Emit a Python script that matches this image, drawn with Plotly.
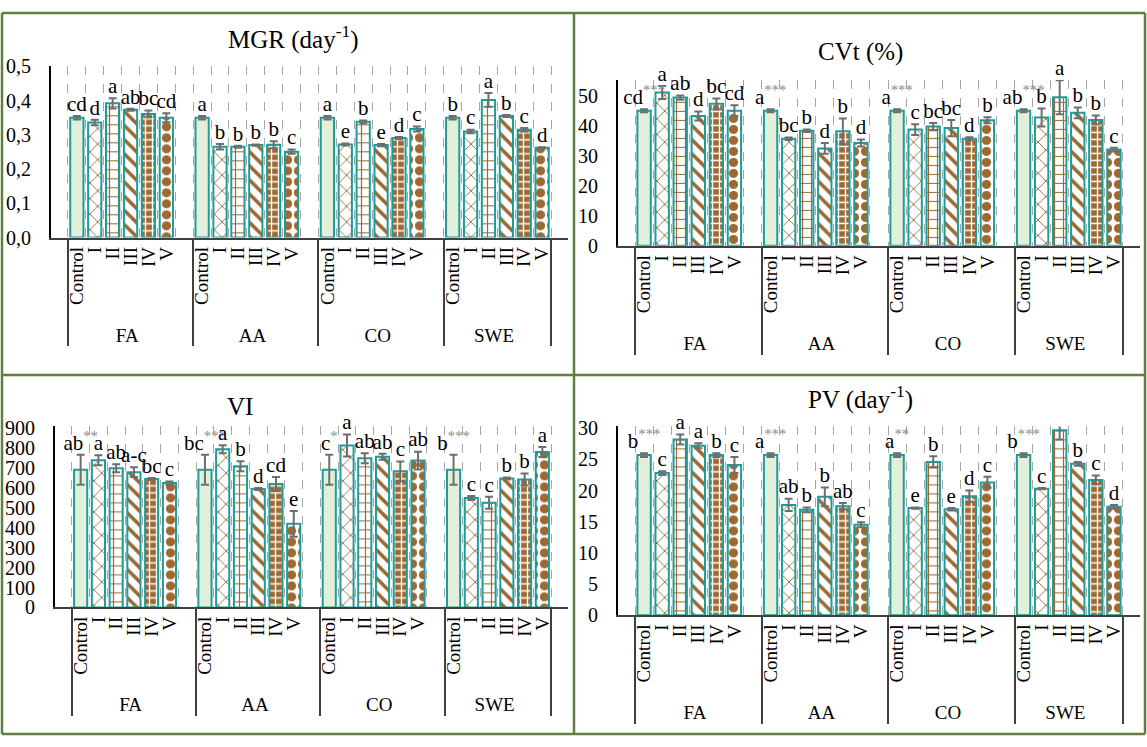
import plotly.graph_objects as go

groups = ["FA", "AA", "CO", "SWE"]
treatments = ["Control", "I", "II", "III", "IV", "V"]

# MGR (day-1): means, SE and letters, ordered FA, AA, CO, SWE x Control..V
mgr_mean = [0.350, 0.336, 0.392, 0.373, 0.361, 0.350,
            0.350, 0.265, 0.265, 0.270, 0.271, 0.251,
            0.350, 0.272, 0.338, 0.270, 0.291, 0.317,
            0.350, 0.310, 0.402, 0.355, 0.315, 0.262]
mgr_err = [0.005, 0.008, 0.015, 0.003, 0.010, 0.013,
           0.005, 0.008, 0.003, 0.002, 0.010, 0.006,
           0.005, 0.003, 0.004, 0.003, 0.003, 0.007,
           0.005, 0.005, 0.020, 0.003, 0.005, 0.002]
mgr_letters = ["cd", "d", "a", "ab", "bc", "cd",
               "a", "b", "b", "b", "b", "c",
               "a", "e", "b", "e", "d", "c",
               "b", "c", "a", "b", "c", "d"]

# CVt (%)
cvt_mean = [45.2, 51.3, 49.6, 43.4, 47.5, 45.2,
            45.2, 35.8, 38.5, 32.6, 38.3, 34.4,
            45.2, 38.9, 39.9, 39.4, 35.8, 42.0,
            45.2, 42.9, 49.7, 44.5, 42.1, 32.2]
cvt_err = [0.5, 2.2, 0.7, 1.5, 1.8, 1.8,
           0.5, 0.4, 0.4, 1.8, 4.3, 1.2,
           0.5, 1.8, 1.2, 2.7, 0.5, 1.0,
           0.5, 3.0, 5.7, 1.8, 1.5, 0.6]
cvt_letters = ["cd<sup>***</sup>", "a", "ab", "d", "bc", "cd",
               "a<sup>***</sup>", "bc", "b", "d", "b", "d",
               "a<sup>***</sup>", "c", "bc", "bc", "d", "b",
               "ab<sup>***</sup>", "b", "a", "b", "b", "c"]

# VI
vi_mean = [692, 740, 700, 680, 645, 625,
           692, 795, 710, 595, 620, 420,
           692, 814, 750, 757, 684, 738,
           692, 550, 526, 648, 643, 781]
vi_err = [75, 25, 20, 25, 5, 8,
          75, 20, 25, 5, 35, 65,
          75, 55, 25, 15, 50, 45,
          75, 10, 30, 5, 30, 25]
vi_letters = ["ab<sup>**</sup>", "a", "ab", "a-c", "bc", "c",
              "bc<sup>***</sup>", "a", "b", "d", "cd", "e",
              "c<sup>*</sup>", "a", "ab", "ab", "c", "ab",
              "b<sup>***</sup>", "c", "c", "b", "b", "a"]

# PV (day-1)
pv_mean = [25.7, 22.8, 28.2, 27.2, 25.7, 24.1,
           25.7, 17.7, 16.9, 19.0, 17.5, 14.5,
           25.7, 17.2, 24.6, 17.0, 19.1, 21.3,
           25.7, 20.3, 29.7, 24.3, 21.7, 17.4]
pv_err = [0.3, 0.3, 0.8, 0.4, 0.3, 1.3,
          0.3, 1.0, 0.4, 1.5, 0.5, 0.4,
          0.3, 0.1, 0.9, 0.2, 0.9, 0.9,
          0.3, 0.1, 1.5, 0.3, 0.7, 0.3]
pv_letters = ["b<sup>***</sup>", "c", "a", "a", "b", "c",
              "a<sup>***</sup>", "ab", "b", "b", "ab", "c",
              "a<sup>**</sup>", "e", "b", "e", "d", "c",
              "b<sup>***</sup>", "c", "a", "b", "c", "d"]

FONT = "Liberation Serif"
TEAL = "#1E9C99"
BROWN = "#9E6830"
CTRL = "#E2EFDA"
STAR = "<span style='color:#8A8A8A'>"

# one fill style per treatment: (shape, fg, bg, size, solidity)
styles = {
    "Control": ("", CTRL, CTRL, 8, 0.3),
    "I": ("x", BROWN, "white", 11, 0.16),
    "II": ("+", BROWN, "white", 9, 0.25),
    "III": ("\\", BROWN, "white", 10, 0.35),
    "IV": ("+", "white", BROWN, 7, 0.35),
    "V": (".", BROWN, "white", 11, 0.55),
}

W, H = 1147, 747


def px_x(a, b):
    return [a / W, b / W]


def px_y(top, bottom):
    return [1 - bottom / H, 1 - top / H]


def add_panel(fig, mean, err, letters, xa, ya):
    for ti, t in enumerate(treatments):
        idx = [gi * len(treatments) + ti for gi in range(len(groups))]
        shape, fg, bg, size, sol = styles[t]
        fig.add_trace(go.Bar(
            x=[groups, [t] * len(groups)], y=[mean[k] for k in idx],
            xaxis=xa, yaxis=ya, showlegend=False,
            marker=dict(color=bg, line=dict(color=TEAL, width=2),
                        pattern=dict(shape=shape, fgcolor=fg, bgcolor=bg,
                                     size=size, solidity=sol, fillmode="replace")),
            error_y=dict(type="data", array=[err[k] for k in idx], visible=True,
                         color="#6E6E6E", thickness=2, width=4),
        ))
    # empty slot closing each group (all but the last) keeps the group spacing
    blank_o = groups[:-1]
    fig.add_trace(go.Bar(x=[blank_o, [" "] * len(blank_o)], y=[None] * len(blank_o),
                         xaxis=xa, yaxis=ya, showlegend=False, hoverinfo="skip"))
    xo, xi, ty, tt = [], [], [], []
    for gi, g in enumerate(groups):
        for ti, t in enumerate(treatments):
            k = gi * len(treatments) + ti
            xo.append(g); xi.append(t)
            ty.append(mean[k] + err[k])
            tt.append(letters[k].replace("<sup>", "<sup>" + STAR)
                      .replace("</sup>", "</span></sup>"))
    fig.add_trace(go.Scatter(
        x=[xo, xi], y=ty, text=tt, mode="text", textposition="top center",
        cliponaxis=False, xaxis=xa, yaxis=ya, showlegend=False,
        textfont=dict(family=FONT, size=21, color="black"),
    ))


panels = [
    (mgr_mean, mgr_err, mgr_letters, px_x(51, 568), px_y(57, 233.5), [0, 0.5], 0.1, ".1f"),
    (cvt_mean, cvt_err, cvt_letters, px_x(618, 1140), px_y(71, 242), [0, 55.5], 10, "d"),
    (vi_mean, vi_err, vi_letters, px_x(55, 568), px_y(428, 614.5), [0, 910], 100, "d"),
    (pv_mean, pv_err, pv_letters, px_x(618, 1140), px_y(428, 622.5), [0, 30.3], 5, "d"),
]

fig = go.Figure()
layout = dict(
    width=W, height=H, margin=dict(l=0, r=0, t=0, b=0),
    paper_bgcolor="white", plot_bgcolor="white",
    separators=",.", barmode="overlay", bargap=0.26, showlegend=False,
    font=dict(family=FONT, size=20, color="black"),
)

for i, (m, e, l, xd, yd, yr, dt, fmt) in enumerate(panels):
    sfx = "" if i == 0 else str(i + 1)
    add_panel(fig, m, e, l, "x" + sfx, "y" + sfx)
    layout["xaxis" + sfx] = dict(
        type="multicategory", domain=xd, anchor="y" + sfx,
        tickmode="linear", tick0=0, dtick=1,
        tickson="boundaries", showgrid=True, gridcolor="#A6A6A6",
        griddash="dash", gridwidth=1, ticks="",
        showline=True, linecolor="#404040", linewidth=1.5,
        tickangle=-90, tickfont=dict(family=FONT, size=19, color="black"),
        showdividers=True, dividercolor="#404040", dividerwidth=1.5,
        zeroline=False,
    )
    layout["yaxis" + sfx] = dict(
        domain=yd, anchor="x" + sfx, range=yr, dtick=dt, tick0=0,
        tickformat=fmt, showgrid=False, zeroline=False,
        showline=True, linecolor="black", linewidth=2, ticks="",
        ticklabelstandoff=14,
        tickfont=dict(family=FONT, size=20, color="black"),
    )

fig.update_layout(**layout)

titles = [
    ("MGR (day<sup>-1</sup>)", 293, 27),
    ("CVt (%)", 860, 42),
    ("VI", 240, 407),
    ("PV (day<sup>-1</sup>)", 860, 398),
]
for txt_, cx, cy in titles:
    fig.add_annotation(text=txt_, x=cx / W, y=1 - cy / H, xref="paper", yref="paper",
                       showarrow=False, xanchor="center", yanchor="middle",
                       font=dict(family=FONT, size=25, color="black"))

# table frame around the four panels
BORDER = "#5F7F3F"
frame = [
    (2, 2, 1145, 2), (2, 745, 1145, 745), (2, 2, 2, 745), (1145, 2, 1145, 745),
    (574, 2, 574, 745), (2, 375, 1145, 375),
]
for x0, y0, x1, y1 in frame:
    fig.add_shape(type="line", xref="paper", yref="paper",
                  x0=x0 / W, x1=x1 / W, y0=1 - y0 / H, y1=1 - y1 / H,
                  line=dict(color=BORDER, width=2.5))

fig.write_html("out.html")
